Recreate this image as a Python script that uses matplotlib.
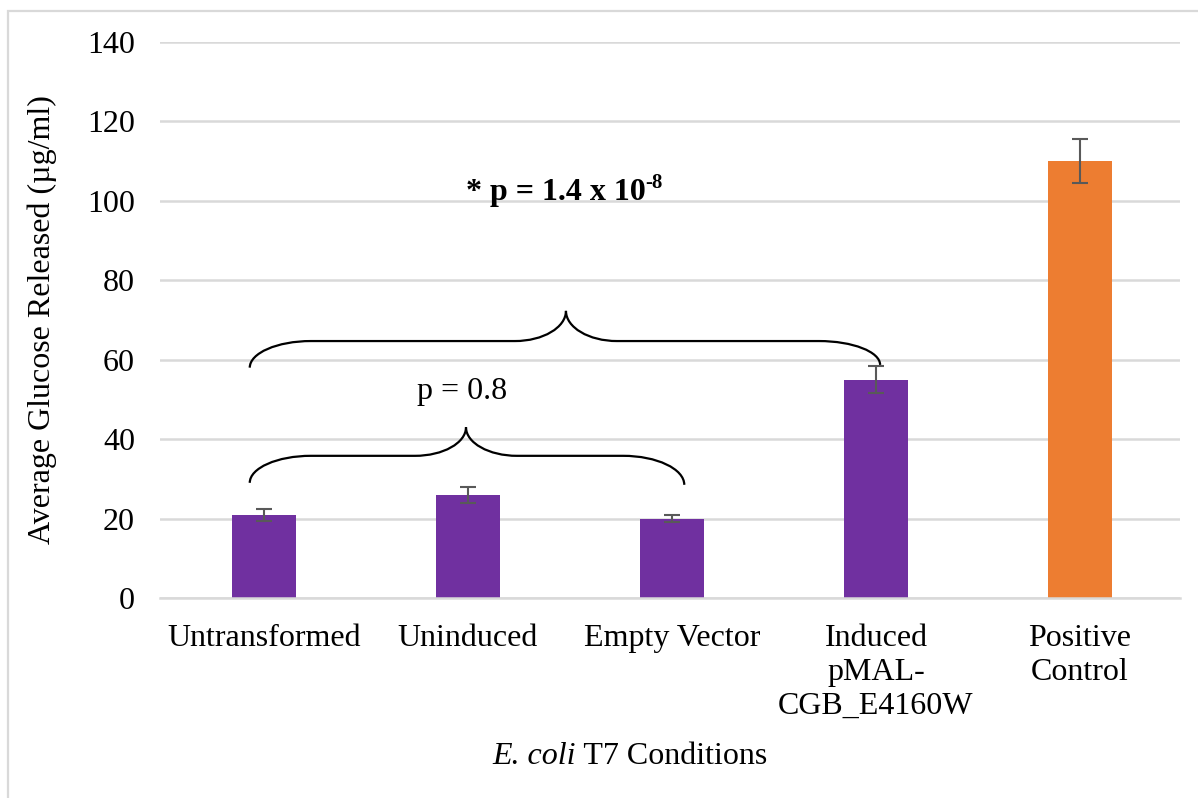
import matplotlib.pyplot as plt
import numpy as np
from matplotlib.path import Path
from matplotlib.patches import PathPatch, Rectangle

# Glucose release per condition
conditions = ["Untransformed", "Uninduced", "Empty Vector",
              "Induced\npMAL-\nCGB_E4160W", "Positive\nControl"]
glucose = [21, 26, 20, 55, 110]
glucose_err = [1.5, 2, 0.8, 3.5, 5.5]
bar_colors = ["#7030A0", "#7030A0", "#7030A0", "#7030A0", "#ED7D31"]

# Significance braces: (left x, right x, peak x, left y, right y, flat y, peak y)
braces = [
    (-0.07, 2.06, 0.99, 29, 28.5, 35.8, 43),
    (-0.07, 3.02, 1.48, 58, 58.7, 64.7, 72.3),
]

plt.rcParams['font.family'] = ['Liberation Serif', 'DejaVu Serif']
FS = 23

fig = plt.figure(figsize=(11.98, 7.98), dpi=100)
ax = fig.add_axes([160 / 1198, 200 / 798, 1020 / 1198, 556 / 798])

x = np.arange(len(conditions))
ax.bar(x, glucose, width=0.315, color=bar_colors, zorder=2)
ax.errorbar(x, glucose, yerr=glucose_err, fmt='none', ecolor='#595959',
            elinewidth=1.5, capsize=6, capthick=1.5, zorder=3)

ax.set_xlim(-0.51, 4.49)
ax.set_ylim(0, 140)
ax.set_yticks(range(0, 141, 20))
ax.set_xticks(x)
ax.set_xticklabels(conditions, fontsize=FS, linespacing=1.22)
ax.tick_params(axis='y', labelsize=FS, length=0, pad=18)
ax.tick_params(axis='x', length=0, pad=19)
ax.grid(axis='y', color='#d9d9d9', linewidth=1.8, zorder=0)
for side in ['top', 'right', 'left']:
    ax.spines[side].set_visible(False)
ax.spines['bottom'].set_color('#d9d9d9')
ax.spines['bottom'].set_linewidth(1.8)

ax.set_ylabel("Average Glucose Released (µg/ml)", fontsize=FS, labelpad=22)

# x-axis title with italic species name
xl = fig.text(492 / 1198, 1 - 757 / 798, "E. coli", fontsize=FS,
              fontstyle='italic', ha='left', va='center')
ax.annotate(" T7 Conditions", xy=(1, 0.5), xycoords=xl, fontsize=FS,
            ha='left', va='center', annotation_clip=False)


def brace_path(x0, x1, xp, y0, y1, yh, yp, r=0.3, r2=0.25):
    verts = [
        (x0, y0),
        (x0, y0 + 0.55 * (yh - y0)), (x0 + 0.45 * r, yh), (x0 + r, yh),
        (xp - r2, yh),
        (xp - 0.45 * r2, yh), (xp, yp - 0.55 * (yp - yh)), (xp, yp),
        (xp, yp - 0.55 * (yp - yh)), (xp + 0.45 * r2, yh), (xp + r2, yh),
        (x1 - r, yh),
        (x1 - 0.45 * r, yh), (x1, y1 + 0.55 * (yh - y1)), (x1, y1),
    ]
    codes = [Path.MOVETO,
             Path.CURVE4, Path.CURVE4, Path.CURVE4,
             Path.LINETO,
             Path.CURVE4, Path.CURVE4, Path.CURVE4,
             Path.CURVE4, Path.CURVE4, Path.CURVE4,
             Path.LINETO,
             Path.CURVE4, Path.CURVE4, Path.CURVE4]
    return Path(verts, codes)


for b in braces:
    ax.add_patch(PathPatch(brace_path(*b), facecolor='none', edgecolor='black',
                           linewidth=1.6, zorder=4, clip_on=False))

ax.text(0.97, 52, "p = 0.8", ha='center', va='center', fontsize=FS, zorder=5)
sig = ax.text(1.43, 102, "* p = 1.4 x 10", ha='center', va='center',
              fontsize=FS, fontweight='bold', zorder=5)
ax.annotate("-8", xy=(1, 0.85), xycoords=sig, ha='left', va='center',
            fontsize=15, fontweight='bold')

# light chart-area frame
fig.patches.append(Rectangle((8 / 1198, -0.1), 1.2, 1.1 - 11 / 798,
                             transform=fig.transFigure, fill=False,
                             edgecolor='#d9d9d9', linewidth=1.6))

fig.savefig("out.png", dpi=100)
